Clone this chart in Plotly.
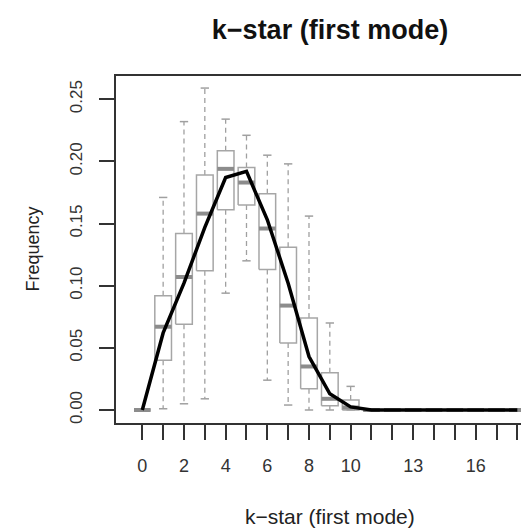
import plotly.graph_objects as go

# ---- data ----
categories = list(range(19))
x_tick_labels = ["0", "", "2", "", "4", "", "6", "", "8", "", "10", "", "", "13", "", "", "16", "", ""]
upper_whisker = [0, 0.171, 0.232, 0.259, 0.234, 0.221, 0.205, 0.198, 0.156, 0.070, 0.019, 0, 0, 0, 0, 0, 0, 0, 0]
q3_values     = [0, 0.092, 0.142, 0.189, 0.2085, 0.195, 0.174, 0.131, 0.074, 0.030, 0.008, 0, 0, 0, 0, 0, 0, 0, 0]
median_values = [0, 0.067, 0.107, 0.158, 0.194, 0.183, 0.146, 0.084, 0.035, 0.009, 0.002, 0, 0, 0, 0, 0, 0, 0, 0]
q1_values     = [0, 0.040, 0.069, 0.112, 0.161, 0.165, 0.113, 0.054, 0.017, 0.0035, 0, 0, 0, 0, 0, 0, 0, 0, 0]
lower_whisker = [0, 0.001, 0.005, 0.009, 0.094, 0.120, 0.024, 0.004, 0, 0, 0, 0, 0, 0, 0, 0, 0, 0, 0]
mean_values   = [0, 0.062, 0.102, 0.147, 0.187, 0.192, 0.153, 0.102, 0.043, 0.013, 0.0025, 0, 0, 0, 0, 0, 0, 0, 0]
y_tick_values = [0, 0.05, 0.10, 0.15, 0.20, 0.25]
y_tick_labels = ["0.00", "0.05", "0.10", "0.15", "0.20", "0.25"]

BOX_HALF = 0.4
CAP_HALF = 0.2
GRAY_BOX = "#a6a6a6"
GRAY_MED = "#8c8c8c"
GRAY_WHISK = "#a0a0a0"
FONT = "Liberation Sans, Arial, sans-serif"
OFF = 8  # page body margin of the browser

bx, by, wx, wy, cx, cy, mx, my = [], [], [], [], [], [], [], []
for c, lo, a, m, b, hi in zip(categories, lower_whisker, q1_values, median_values, q3_values, upper_whisker):
    bx += [c - BOX_HALF, c + BOX_HALF, c + BOX_HALF, c - BOX_HALF, c - BOX_HALF, None]
    by += [a, a, b, b, a, None]
    if hi > b:
        wx += [c, c, None]
        wy += [b, hi, None]
    if lo < a:
        wx += [c, c, None]
        wy += [a, lo, None]
    cx += [c - CAP_HALF, c + CAP_HALF, None, c - CAP_HALF, c + CAP_HALF, None]
    cy += [hi, hi, None, lo, lo, None]
    mx += [c - BOX_HALF, c + BOX_HALF, None]
    my += [m, m, None]

fig = go.Figure()
fig.add_trace(go.Scatter(x=wx, y=wy, mode="lines", line=dict(color=GRAY_WHISK, width=1.3, dash="5px,4px"), hoverinfo="skip"))
fig.add_trace(go.Scatter(x=cx, y=cy, mode="lines", line=dict(color=GRAY_WHISK, width=1.5), hoverinfo="skip"))
fig.add_trace(go.Scatter(x=bx, y=by, mode="lines", line=dict(color=GRAY_BOX, width=1.5), hoverinfo="skip"))
fig.add_trace(go.Scatter(x=mx, y=my, mode="lines", line=dict(color=GRAY_MED, width=4), hoverinfo="skip"))
fig.add_trace(go.Scatter(x=categories, y=mean_values, mode="lines", line=dict(color="black", width=3.5), hoverinfo="skip"))

W, H = 529 - OFF, 530 - OFF
axis_col = "#333333"
fig.update_layout(
    width=W, height=H,
    margin=dict(l=116 - OFF, r=0, t=76 - OFF, b=H - (423 - OFF), autoexpand=False),
    paper_bgcolor="white", plot_bgcolor="white",
    showlegend=False,
    font=dict(family=FONT, color="#222222"),
    title=dict(text="<b>k\u2212star (first mode)</b>", font=dict(size=27, color="#111111", family=FONT),
               xref="container", yref="container", x=(330 - OFF) / W, y=1 - (30 - OFF) / H,
               xanchor="center", yanchor="middle"),
    xaxis=dict(range=[-1.263, 18.56], tickmode="array", tickvals=categories, ticktext=x_tick_labels,
               ticks="outside", ticklen=15, tickwidth=2, tickcolor=axis_col,
               showline=True, mirror=True, linecolor=axis_col, linewidth=2,
               showgrid=False, zeroline=False, tickfont=dict(size=18, color="#333333"),
               ticklabelstandoff=10),
    yaxis=dict(range=[-0.01046, 0.2687], tickmode="array", tickvals=y_tick_values, ticktext=y_tick_labels,
               tickangle=-90, ticks="outside", ticklen=15, tickwidth=2, tickcolor=axis_col,
               showline=True, linecolor=axis_col, linewidth=2,
               showgrid=False, zeroline=False, tickfont=dict(size=17, color="#333333"),
               ticklabelstandoff=10),
    annotations=[
        dict(text="k\u2212star (first mode)", xref="paper", yref="paper", x=(330 - 116) / 413, y=-(516 - 423) / 347,
             xanchor="center", yanchor="middle", showarrow=False, font=dict(size=21, color="#222222", family=FONT)),
        dict(text="Frequency", xref="paper", yref="paper", x=-(116 - 32) / 413, y=0.5, textangle=-90,
             xanchor="center", yanchor="middle", showarrow=False, font=dict(size=18, color="#222222", family=FONT)),
    ],
)

fig.write_html("out.html")
